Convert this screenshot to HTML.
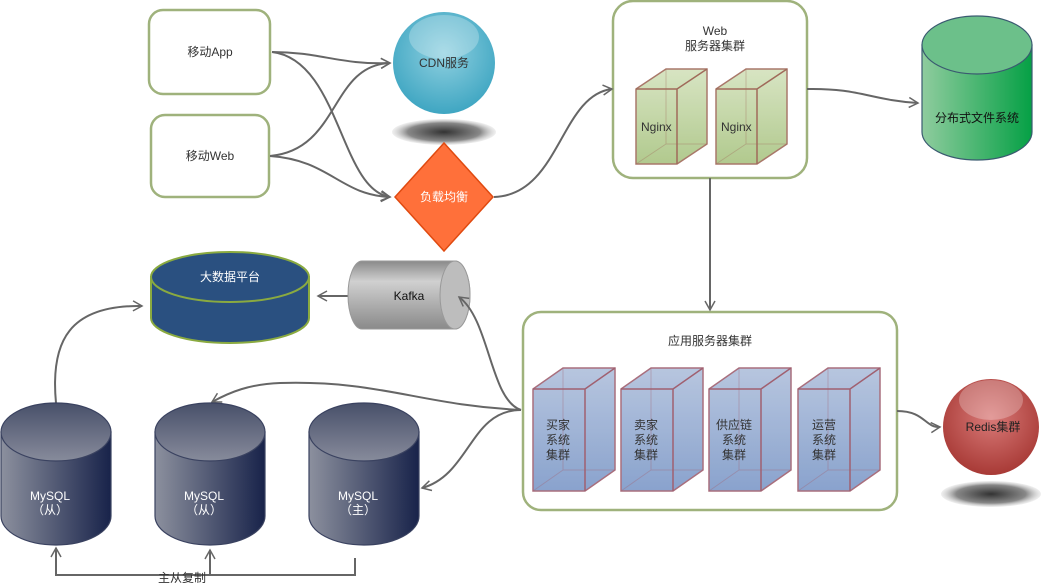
<!DOCTYPE html>
<html><head><meta charset="utf-8"><style>
body{margin:0;background:#fff;}
svg{display:block;font-family:"Liberation Sans","Noto Sans CJK SC",sans-serif;}
</style></head><body>
<svg width="1054" height="583" viewBox="0 0 1054 583" xmlns="http://www.w3.org/2000/svg">
<defs>
<marker id="ar" markerWidth="12" markerHeight="12" refX="10" refY="6" orient="auto" markerUnits="userSpaceOnUse">
<path d="M1,1 L10,6 L1,11" fill="none" stroke="#666" stroke-width="1.5"/></marker>
<radialGradient id="cdn" cx="50%" cy="40%" r="60%"><stop offset="0" stop-color="#8fd0e0"/><stop offset="1" stop-color="#3fa6c2"/></radialGradient>
<radialGradient id="red" cx="50%" cy="40%" r="60%"><stop offset="0" stop-color="#d97a78"/><stop offset="1" stop-color="#a83a36"/></radialGradient>
<radialGradient id="sh"><stop offset="0" stop-color="#333"/><stop offset="0.7" stop-color="#888"/><stop offset="1" stop-color="#ccc" stop-opacity="0.3"/></radialGradient>
<linearGradient id="my" x1="0" x2="1"><stop offset="0" stop-color="#8c909e"/><stop offset="1" stop-color="#18234a"/></linearGradient>
<linearGradient id="myt" x1="0" y1="0" x2="0" y2="1"><stop offset="0" stop-color="#48506a"/><stop offset="1" stop-color="#878b9b"/></linearGradient>
<linearGradient id="gr" x1="0" x2="1"><stop offset="0" stop-color="#8fcc9e"/><stop offset="1" stop-color="#05a045"/></linearGradient>
<linearGradient id="kf" x1="0" y1="0" x2="0" y2="1"><stop offset="0" stop-color="#8a8a8a"/><stop offset="0.3" stop-color="#d0d0d0"/><stop offset="1" stop-color="#8a8a8a"/></linearGradient>
<linearGradient id="bl" x1="0" y1="0" x2="0" y2="1"><stop offset="0" stop-color="#b0c0dc"/><stop offset="1" stop-color="#7d99c8"/></linearGradient>
<linearGradient id="gn" x1="0" y1="0" x2="0" y2="1"><stop offset="0" stop-color="#d4e2bd"/><stop offset="1" stop-color="#a9c482"/></linearGradient>
</defs>

<g fill="#fff" stroke="#9fb27c" stroke-width="2.5">
<rect x="149" y="10" width="121" height="84" rx="14"/>
<rect x="151" y="115" width="118" height="82" rx="14"/>
<rect x="613" y="1" width="194" height="177" rx="20"/>
<rect x="523" y="312" width="374" height="198" rx="18"/>
</g>
<g font-size="12" fill="#333" text-anchor="middle">
<text x="210" y="56">移动App</text>
<text x="210" y="160">移动Web</text>
<text x="715" y="35">Web</text>
<text x="715" y="50">服务器集群</text>
<text x="710" y="345">应用服务器集群</text>
</g>

<g fill="none" stroke="#666" stroke-width="2">
<path d="M272,52 C320,52 340,65 390,63" marker-end="url(#ar)"/>
<path d="M272,52 C340,60 340,190 390,197" marker-end="url(#ar)"/>
<path d="M270,156 C340,150 330,65 390,63" marker-end="url(#ar)"/>
<path d="M270,156 C330,160 340,195 390,197" marker-end="url(#ar)"/>
<path d="M494,197 C560,195 560,95 612,89" marker-end="url(#ar)"/>
<path d="M807,89 C860,88 870,100 918,103" marker-end="url(#ar)"/>
<path d="M710,178 L710,310" marker-end="url(#ar)"/>
<path d="M897,411 C925,411 925,428 940,427" marker-end="url(#ar)"/>
<path d="M348,296 L318,296" marker-end="url(#ar)"/>
<path d="M521,410 C420,405 380,380 280,383 C250,384 230,392 212,402" marker-end="url(#ar)"/>
<path d="M521,410 C470,410 470,475 422,488" marker-end="url(#ar)"/>
<path d="M56,403 C50,340 70,305 142,306" marker-end="url(#ar)"/>
<path d="M355,558 L355,575 L210,575 L210,562" />
<path d="M210,575 L56,575 L56,548" marker-end="url(#ar)"/>
<path d="M210,575 L210,550" marker-end="url(#ar)"/>
</g>
<text x="182" y="582" font-size="12" fill="#333" text-anchor="middle">主从复制</text>

<ellipse cx="444" cy="132" rx="52" ry="13" fill="url(#sh)"/>
<circle cx="444" cy="63" r="51" fill="url(#cdn)"/>
<ellipse cx="444" cy="37" rx="35" ry="22" fill="#fff" opacity="0.25"/>
<text x="444" y="67" font-size="12" fill="#333" text-anchor="middle">CDN服务</text>
<path d="M444,143 L493,197 L444,251 L395,197 Z" fill="#ff703a" stroke="#e04a10" stroke-width="1.5"/>
<text x="444" y="201" font-size="12" fill="#fff" text-anchor="middle">负载均衡</text>

<g stroke="#a06a5a" stroke-width="1.5" fill="url(#gn)" opacity="0.9">
<path d="M636,89 L666,69 L707,69 L707,144 L677,164 L636,164 Z"/>
<path d="M716,89 L746,69 L787,69 L787,144 L757,164 L716,164 Z"/>
</g>
<g stroke="#a06a5a" stroke-width="1" fill="none" opacity="0.35">
<path d="M666,69 L666,144 L707,144 M666,144 L636,164"/>
<path d="M746,69 L746,144 L787,144 M746,144 L716,164"/>
</g>
<g stroke="#a06a5a" stroke-width="1.5" fill="none">
<path d="M636,89 L677,89 L677,164 M677,89 L707,69"/>
<path d="M716,89 L757,89 L757,164 M757,89 L787,69"/>
</g>
<g font-size="12" fill="#333"><text x="641" y="131">Nginx</text><text x="721" y="131">Nginx</text></g>

<path d="M922,45 L922,132 A55,28 0 0 0 1032,132 L1032,45 Z" fill="url(#gr)" stroke="#3a5a70" stroke-width="1.2"/>
<ellipse cx="977" cy="45" rx="55" ry="29" fill="#6cc08a" stroke="#3a5a70" stroke-width="1.2"/>
<text x="977" y="122" font-size="12" fill="#111" text-anchor="middle">分布式文件系统</text>

<path d="M151,277 L151,318 A79,25 0 0 0 309,318 L309,277 Z" fill="#2a5080" stroke="#8aaa40" stroke-width="2"/>
<ellipse cx="230" cy="277" rx="79" ry="25" fill="#2a5080" stroke="#8aaa40" stroke-width="2"/>
<text x="230" y="281" font-size="12" fill="#fff" text-anchor="middle">大数据平台</text>

<path d="M362,261 L455,261 A15,34 0 0 1 455,329 L362,329 A14,34 0 0 1 362,261 Z" fill="url(#kf)" stroke="#999"/>
<ellipse cx="455" cy="295" rx="15" ry="34" fill="#bdbdbd" stroke="#999"/>
<text x="409" y="300" font-size="12" fill="#111" text-anchor="middle">Kafka</text>
<path d="M521,410 C490,400 490,320 459,297" fill="none" stroke="#666" stroke-width="2" marker-end="url(#ar)"/>

<g stroke="#a06070" stroke-width="1.5" fill="url(#bl)" opacity="0.9">
<path d="M533,389 L563,368 L615,368 L615,470 L585,491 L533,491 Z"/>
<path d="M621,389 L651,368 L703,368 L703,470 L673,491 L621,491 Z"/>
<path d="M709,389 L739,368 L791,368 L791,470 L761,491 L709,491 Z"/>
<path d="M798,389 L828,368 L880,368 L880,470 L850,491 L798,491 Z"/>
</g>
<g stroke="#a06070" stroke-width="1" fill="none" opacity="0.35">
<path d="M563,368 L563,470 L615,470 M563,470 L533,491"/>
<path d="M651,368 L651,470 L703,470 M651,470 L621,491"/>
<path d="M739,368 L739,470 L791,470 M739,470 L709,491"/>
<path d="M828,368 L828,470 L880,470 M828,470 L798,491"/>
</g>
<g stroke="#a06070" stroke-width="1.5" fill="none">
<path d="M533,389 L585,389 L585,491 M585,389 L615,368"/>
<path d="M621,389 L673,389 L673,491 M673,389 L703,368"/>
<path d="M709,389 L761,389 L761,491 M761,389 L791,368"/>
<path d="M798,389 L850,389 L850,491 M850,389 L880,368"/>
</g>
<g font-size="12" fill="#333" text-anchor="middle">
<text x="558" y="429">买家</text><text x="558" y="444">系统</text><text x="558" y="459">集群</text>
<text x="646" y="429">卖家</text><text x="646" y="444">系统</text><text x="646" y="459">集群</text>
<text x="734" y="429">供应链</text><text x="734" y="444">系统</text><text x="734" y="459">集群</text>
<text x="824" y="429">运营</text><text x="824" y="444">系统</text><text x="824" y="459">集群</text>
</g>

<ellipse cx="991" cy="494" rx="50" ry="13" fill="url(#sh)"/>
<circle cx="991" cy="427" r="48" fill="url(#red)"/>
<ellipse cx="991" cy="400" rx="32" ry="20" fill="#fff" opacity="0.25"/>
<text x="993" y="431" font-size="12" fill="#222" text-anchor="middle">Redis集群</text>

<g stroke="#3a4260" stroke-width="1.2">
<path d="M1,432 L1,516 A55,29 0 0 0 111,516 L111,432 Z" fill="url(#my)"/>
<ellipse cx="56" cy="432" rx="55" ry="29" fill="url(#myt)"/>
<path d="M155,432 L155,516 A55,29 0 0 0 265,516 L265,432 Z" fill="url(#my)"/>
<ellipse cx="210" cy="432" rx="55" ry="29" fill="url(#myt)"/>
<path d="M309,432 L309,516 A55,29 0 0 0 419,516 L419,432 Z" fill="url(#my)"/>
<ellipse cx="364" cy="432" rx="55" ry="29" fill="url(#myt)"/>
</g>
<g font-size="12" fill="#fff" text-anchor="middle">
<text x="50" y="500">MySQL</text><text x="50" y="514">（从）</text>
<text x="204" y="500">MySQL</text><text x="204" y="514">（从）</text>
<text x="358" y="500">MySQL</text><text x="358" y="514">（主）</text>
</g>
</svg>
</body></html>
